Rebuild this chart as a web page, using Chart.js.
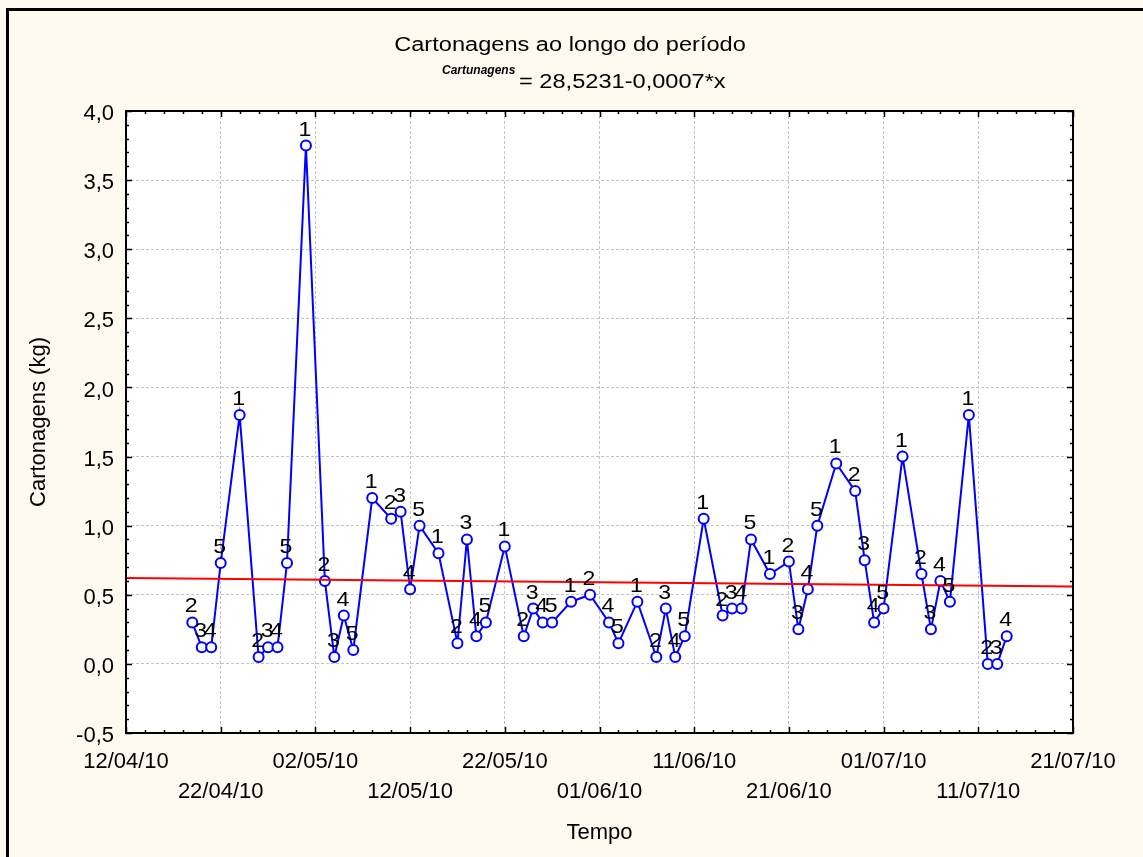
<!DOCTYPE html>
<html>
<head>
<meta charset="utf-8">
<title>Cartonagens ao longo do período</title>
<script src="https://cdn.jsdelivr.net/npm/chart.js@4.4.1/dist/chart.umd.min.js"></script>
<style>
  html, body { margin: 0; padding: 0; background: #fffaf0; }
  canvas { display: block; }
</style>
</head>
<body>
<canvas id="chart" width="1143" height="857"></canvas>
<script>
// datas das pesagens (dd/mm/aa)
var dates = [
  "19/04/10", "20/04/10", "21/04/10", "22/04/10", "24/04/10",
  "26/04/10", "27/04/10", "28/04/10", "29/04/10", "01/05/10",
  "03/05/10", "04/05/10", "05/05/10", "06/05/10", "08/05/10",
  "10/05/10", "11/05/10", "12/05/10", "13/05/10", "15/05/10",
  "17/05/10", "18/05/10", "19/05/10", "20/05/10", "22/05/10",
  "24/05/10", "25/05/10", "26/05/10", "27/05/10", "29/05/10",
  "31/05/10", "02/06/10", "03/06/10", "05/06/10",
  "07/06/10", "08/06/10", "09/06/10", "10/06/10", "12/06/10",
  "14/06/10", "15/06/10", "16/06/10", "17/06/10", "19/06/10",
  "21/06/10", "22/06/10", "23/06/10", "24/06/10", "26/06/10",
  "28/06/10", "29/06/10", "30/06/10", "01/07/10", "03/07/10",
  "05/07/10", "06/07/10", "07/07/10", "08/07/10", "10/07/10",
  "12/07/10", "13/07/10", "14/07/10"
];

// cartonagens (kg)
var values = [
  0.30, 0.12, 0.12, 0.73, 1.80,
  0.05, 0.12, 0.12, 0.73, 3.75,
  0.60, 0.05, 0.35, 0.10, 1.20,
  1.05, 1.10, 0.54, 1.00, 0.80,
  0.15, 0.90, 0.20, 0.30, 0.85,
  0.20, 0.40, 0.30, 0.30, 0.45,
  0.50, 0.30, 0.15, 0.45,
  0.05, 0.40, 0.05, 0.20, 1.05,
  0.35, 0.40, 0.40, 0.90, 0.65,
  0.74, 0.25, 0.54, 1.00, 1.45,
  1.25, 0.75, 0.30, 0.40, 1.50,
  0.65, 0.25, 0.60, 0.45, 1.80,
  0.00, 0.00, 0.20
];

// rótulos dos pontos
var pointLabels = [
  "2", "3", "4", "5", "1",
  "2", "3", "4", "5", "1",
  "2", "3", "4", "5", "1",
  "2", "3", "4", "5", "1",
  "2", "3", "4", "5", "1",
  "2", "3", "4", "5", "1",
  "2", "4", "5", "1",
  "2", "3", "4", "5", "1",
  "2", "3", "4", "5", "1",
  "2", "3", "4", "5", "1",
  "2", "3", "4", "5", "1",
  "2", "3", "4", "5", "1",
  "2", "3", "4"
];

var xTickLabels = ["12/04/10", "22/04/10", "02/05/10", "12/05/10", "22/05/10", "01/06/10",
                   "11/06/10", "21/06/10", "01/07/10", "11/07/10", "21/07/10"];
var yTicks = [-0.5, 0.0, 0.5, 1.0, 1.5, 2.0, 2.5, 3.0, 3.5, 4.0];

// reta ajustada: valor no início e no fim do eixo
var trendValues = [0.622, 0.559];

var FONT = '"Liberation Sans", Arial, sans-serif';
var STRETCH = 1.18; // a fonte original é mais larga

function dayIndex(s) {
  var p = s.split("/");
  return (Date.UTC(2000 + Number(p[2]), Number(p[1]) - 1, Number(p[0])) - Date.UTC(2010, 3, 12)) / 86400000;
}

// texto esticado na horizontal
function wideText(c, txt, x, y, sx) {
  c.save();
  c.translate(x, y);
  c.scale(sx || STRETCH, 1);
  c.fillText(txt, 0, 0);
  c.restore();
}

var xMin = dayIndex(xTickLabels[0]);
var xMax = dayIndex(xTickLabels[xTickLabels.length - 1]);

var points = dates.map(function (d, i) { return { x: dayIndex(d), y: values[i] }; });

// fundo, moldura, ticks internos, rótulos dos pontos e títulos
var decor = {
  id: "decor",
  beforeDraw: function (chart) {
    var c = chart.ctx, a = chart.chartArea;
    c.save();
    c.fillStyle = "#fffaf0";
    c.fillRect(0, 0, chart.width, chart.height);
    c.fillStyle = "#000";
    c.fillRect(6, 8, chart.width, 3);
    c.fillRect(6, 8, 3, chart.height);
    c.fillStyle = "#fff";
    c.fillRect(a.left, a.top, a.right - a.left, a.bottom - a.top);
    c.restore();
  },
  afterDraw: function (chart) {
    var c = chart.ctx, a = chart.chartArea;
    var xs = chart.scales.x, ys = chart.scales.y;
    c.save();
    c.strokeStyle = "#000";
    c.lineWidth = 1.5;
    c.beginPath();
    var k, p, len;
    for (k = -5; k <= 40; k++) {
      p = Math.round(ys.getPixelForValue(k / 10)) + 0.5;
      len = k % 5 === 0 ? 6 : 3;
      c.moveTo(a.left, p); c.lineTo(a.left + len, p);
      c.moveTo(a.right, p); c.lineTo(a.right - len, p);
    }
    for (k = xMin; k <= xMax; k += 2) {
      p = Math.round(xs.getPixelForValue(k)) + 0.5;
      len = k % 10 === 0 ? 6 : 3;
      c.moveTo(p, a.top); c.lineTo(p, a.top + len);
      c.moveTo(p, a.bottom); c.lineTo(p, a.bottom - len);
    }
    c.stroke();
    c.lineWidth = 2;
    c.strokeRect(a.left, a.top, a.right - a.left, a.bottom - a.top);

    // rótulos dos pontos
    var meta = chart.getDatasetMeta(1);
    c.fillStyle = "#000";
    c.font = "21px " + FONT;
    c.textAlign = "center";
    c.textBaseline = "alphabetic";
    meta.data.forEach(function (el, i) {
      wideText(c, pointLabels[i], el.x - 1, el.y - 10, 1.1);
    });

    // títulos
    c.font = "20px " + FONT;
    wideText(c, "Cartonagens ao longo do período", 570, 51);
    c.textAlign = "left";
    c.font = "italic bold 12px " + FONT;
    c.fillText("Cartunagens", 442, 74);
    c.font = "20px " + FONT;
    wideText(c, "= 28,5231-0,0007*x", 519, 88);
    c.restore();
  }
};

var ctx = document.getElementById("chart").getContext("2d");

var myChart = new Chart(ctx, {
  type: "line",
  data: {
    datasets: [{
      label: "Ajuste",
      data: [{ x: xMin, y: trendValues[0] }, { x: xMax, y: trendValues[1] }],
      borderColor: "#ff0000",
      borderWidth: 2,
      pointRadius: 0,
      fill: false
    }, {
      label: "Cartonagens",
      data: points,
      borderColor: "#0000ff",
      borderWidth: 2,
      pointRadius: 5,
      pointBorderWidth: 2,
      pointBorderColor: "#0000ff",
      pointBackgroundColor: "#ffffff",
      tension: 0,
      fill: false
    }]
  },
  options: {
    responsive: false,
    animation: false,
    layout: { padding: { top: 111, right: 70, bottom: 0, left: 0 } },
    plugins: {
      legend: { display: false },
      tooltip: { enabled: false },
      title: { display: false }
    },
    scales: {
      x: {
        type: "linear",
        min: xMin,
        max: xMax,
        afterBuildTicks: function (s) {
          s.ticks = xTickLabels.map(function (l) { return { value: dayIndex(l) }; });
        },
        afterFit: function (s) { s.height = 857 - 733; },
        ticks: {
          autoSkip: false,
          maxRotation: 0,
          padding: 14,
          color: "#000",
          font: { family: FONT, size: 22, lineHeight: 1.36 },
          callback: function (v, i) {
            var l = xTickLabels[i];
            return i % 2 === 0 ? [l, ""] : ["", l];
          }
        },
        grid: { color: "#c4c4c4", lineWidth: 1, drawTicks: false },
        border: { display: false, dash: [3, 2] },
        title: {
          display: true,
          text: "Tempo",
          color: "#000",
          font: { family: FONT, size: 22 },
          padding: { top: 0, bottom: 11 }
        }
      },
      y: {
        min: yTicks[0],
        max: yTicks[yTicks.length - 1],
        afterBuildTicks: function (s) {
          s.ticks = yTicks.map(function (v) { return { value: v }; });
        },
        afterFit: function (s) { s.width = 126; },
        ticks: {
          padding: 12,
          labelOffset: 3,
          color: "#000",
          font: { family: FONT, size: 22 },
          callback: function (v) { return v.toFixed(1).replace(".", ","); }
        },
        grid: { color: "#c4c4c4", lineWidth: 1, drawTicks: false },
        border: { display: false, dash: [3, 2] },
        title: {
          display: true,
          text: "Cartonagens (kg)",
          color: "#000",
          font: { family: FONT, size: 22 },
          padding: { top: 26, bottom: 0 }
        }
      }
    }
  },
  plugins: [decor]
});
</script>
</body>
</html>
